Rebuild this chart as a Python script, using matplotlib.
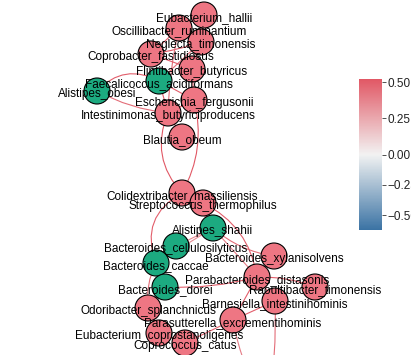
import numpy as np
import matplotlib
import matplotlib.pyplot as plt
from matplotlib.patches import Circle, PathPatch
from matplotlib.path import Path
from matplotlib.colors import LinearSegmentedColormap, TwoSlopeNorm
from matplotlib.cm import ScalarMappable

plt.rcParams['font.family'] = ['Liberation Sans', 'DejaVu Sans']

# ---- nodes: layout position (pixels) and sign of association ----
names = ["Eubacterium_hallii", "Oscillibacter_ruminantium", "Neglecta_timonensis",
         "Coprobacter_fastidiosus", "Flintibacter_butyricus", "Faecalicoccus_acidiformans",
         "Alistipes_obesi", "Escherichia_fergusonii", "Intestinimonas_butyriciproducens",
         "Blautia_obeum", "Colidextribacter_massiliensis", "Streptococcus_thermophilus",
         "Alistipes_shahii", "Bacteroides_cellulosilyticus", "Bacteroides_caccae",
         "Bacteroides_dorei", "Odoribacter_splanchnicus", "Eubacterium_coprostanoligenes",
         "Coprococcus_catus", "Parasutterella_excrementihominis", "Bacteroides_xylanisolvens",
         "Parabacteroides_distasonis", "Raoultibacter_timonensis", "Barnesiella_intestinihominis",
         ""]
node_x = [204, 179, 201, 151, 192, 159, 97, 194, 168, 182, 182, 203,
          213, 176, 156, 165, 148, 159, 185, 233, 274, 257, 315, 275, 268]
node_y = [15, 28, 42, 54, 69, 81, 91, 100, 113, 137, 193, 203,
          228, 246, 263, 287, 308, 333, 343, 320, 256, 277, 287, 301, 410]
node_sign = [1, 1, 1, 1, 1, -1, -1, 1, 1, 1, 1, 1,
             -1, -1, -1, -1, 1, 1, 1, 1, 1, 1, 1, 1, 1]

# ---- edges: (from, to, curvature, correlation) ----
edges = [
    (0, 1, 0.0, 0.45), (0, 2, 0.0, 0.40), (1, 2, 0.0, 0.45), (1, 3, 0.0, 0.40),
    (3, 2, 0.05, 0.45), (2, 4, 0.0, 0.40), (2, 5, 0.0, 0.35), (4, 7, 0.0, 0.45),
    (5, 7, 0.0, 0.40), (5, 8, 0.0, 0.40), (1, 8, 0.05, 0.35), (3, 4, 0.0, 0.40),
    (6, 5, -0.38, 0.40), (6, 8, 0.10, 0.35), (7, 8, 0.0, 0.45), (8, 9, 0.0, 0.45),
    (8, 10, 0.32, 0.45), (7, 10, -0.20, 0.45), (0, 4, 0.0, 0.35),
    (10, 11, 0.0, 0.45), (10, 14, 0.43, 0.40), (10, 12, -0.10, 0.35),
    (11, 12, 0.0, 0.40), (11, 21, -0.26, 0.40), (12, 21, 0.0, 0.30),
    (12, 13, 0.0, 0.25), (12, 14, 0.0, 0.25), (13, 14, 0.0, 0.30),
    (14, 16, 0.15, 0.35), (15, 16, 0.0, 0.40), (21, 15, -0.08, 0.40),
    (12, 20, 0.15, 0.35), (21, 22, -0.10, 0.40), (20, 21, 0.0, 0.40),
    (21, 23, 0.0, 0.40), (21, 19, 0.0, 0.40), (23, 19, 0.0, 0.40),
    (16, 17, 0.0, 0.45), (17, 18, 0.0, 0.45), (19, 18, 0.0, 0.40),
    (23, 24, -0.05, 0.35), (19, 24, 0.10, 0.30),
]

cmap = LinearSegmentedColormap.from_list("cor", ["#3b73a4", "#f2f2f2", "#e15865"])
norm = TwoSlopeNorm(vmin=-0.62, vcenter=0.0, vmax=0.523)

W, H = 411, 355
fig = plt.figure(figsize=(W / 100, H / 100), dpi=100)
ax = fig.add_axes([0, 0, 1, 1])
ax.set_xlim(0, W)
ax.set_ylim(H, 0)
ax.set_axis_off()

# edges as quadratic curves
for a, b, curv, w in edges:
    p0 = np.array([node_x[a], node_y[a]], float)
    p1 = np.array([node_x[b], node_y[b]], float)
    d = p1 - p0
    n = np.array([-d[1], d[0]])
    ctrl = (p0 + p1) / 2 + curv * n
    path = Path([p0, ctrl, p1], [Path.MOVETO, Path.CURVE3, Path.CURVE3])
    ax.add_patch(PathPatch(path, fc="none", ec=cmap(norm(w + 0.1)), lw=0.8, zorder=1))

# vertices
for x, y, s, name in zip(node_x, node_y, node_sign, names):
    col = "#ee7683" if s > 0 else "#1caa80"
    ax.add_patch(Circle((x, y), 13, fc=col, ec="black", lw=0.8, zorder=2))

# labels
for x, y, name in zip(node_x, node_y, names):
    ax.text(x, y + 3, name, ha="center", va="center", fontsize=8.5,
            color="black", zorder=3)

# colour key
cax = fig.add_axes([359 / W, 1 - 230 / H, 23 / W, 151 / H])
sm = ScalarMappable(norm=norm, cmap=cmap)
cb = fig.colorbar(sm, cax=cax)
cb.outline.set_visible(False)
ticks = [-0.5, -0.25, 0.0, 0.25, 0.5]
cb.set_ticks(ticks)
cb.set_ticklabels(["\u22120.50", "\u22120.25", "0.00", "0.25", "0.50"])
cax.tick_params(length=3, width=0.6, color="#333333", labelsize=8.5,
                labelcolor="#222222", pad=1)

fig.savefig("out.png", dpi=100)
